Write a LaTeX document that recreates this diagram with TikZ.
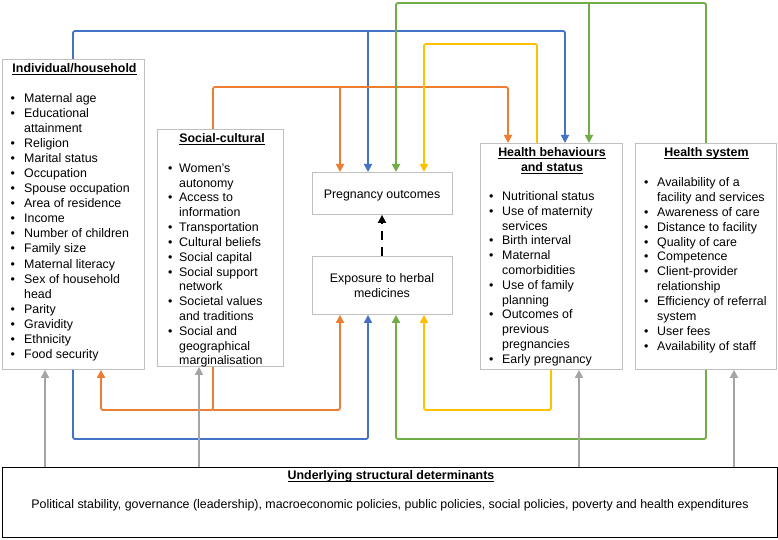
\documentclass[tikz,border=0pt]{standalone}
\usepackage{fontspec}
\setmainfont{Liberation Sans}
\usetikzlibrary{arrows.meta}
\definecolor{cblue}{HTML}{4472C4}
\definecolor{corange}{HTML}{ED7D31}
\definecolor{cgreen}{HTML}{70AD47}
\definecolor{cyellow}{HTML}{FFC000}
\definecolor{cgray}{HTML}{A5A5A5}
\definecolor{boxgray}{HTML}{BFBFBF}
\newlength\bw
\newcommand{\bul}{\makebox[\bw][l]{\textbullet}}
\newcommand{\cont}{\hspace*{\bw}}
\newsavebox\ulnbox
\newcommand{\uln}[1]{\sbox\ulnbox{#1}\rlap{\rule[-1.9pt]{\wd\ulnbox}{0.8pt}}\usebox\ulnbox}
\begin{document}
\begin{tikzpicture}[x=1pt,y=-1pt,
  box/.style={draw=boxgray, line width=0.9pt, fill=white, inner sep=0pt, anchor=north west},
  mainbox/.style={draw=black, line width=1.4pt, inner sep=0pt, anchor=north west},
  ttl/.style={font=\fontsize{12.4}{15}\selectfont\bfseries, inner sep=0pt, anchor=base, align=center},
  txt/.style={font=\fontsize{12.4}{15}\selectfont, inner sep=0pt, anchor=base, align=center},
  lst/.style={font=\fontsize{12.4}{#1}\selectfont, inner sep=0pt, anchor=base west},
  conn/.style={line width=1.8pt, rounded corners=2pt},
  arr/.style={conn, -{Triangle[length=8pt,width=8pt]}},
]
\useasboundingbox (0,0) rectangle (778,540);

% boxes
\node[box, minimum width=142pt, minimum height=310pt] (ind) at (2,59) {};
\node[box, minimum width=126pt, minimum height=237pt] (soc) at (157,129) {};
\node[box, minimum width=140pt, minimum height=42pt] (preg) at (312,172) {};
\node[box, minimum width=140pt, minimum height=58pt] (expo) at (312,256) {};
\node[box, minimum width=142pt, minimum height=226pt] (hb) at (480,143) {};
\node[box, minimum width=141pt, minimum height=226pt] (hs) at (635,143) {};
\node[mainbox, minimum width=775pt, minimum height=70pt] (und) at (2,467) {};

% titles and texts
\node[ttl] (indT) at (74.5,72.5) {\uln{Individual/household}};
\node[ttl] (socT) at (222,142.5) {\uln{Social-cultural}};
\node[ttl] (hbT) at (552,171.5) {\uln{Health behaviours}\\\uln{and status}};
\node[ttl] (hsT) at (706.5,156.5) {\uln{Health system}};
\node[ttl] (undT) at (391,479.5) {\uln{Underlying structural determinants}};
\node[txt] (undB) at (390,508.5) {Political stability, governance (leadership), macroeconomic policies, public policies, social policies, poverty and health expenditures};
\node[txt] (pregT) at (382,198.5) {Pregnancy outcomes};
\node[txt] (expoT) at (382,297.5) {Exposure to herbal\\medicines};

% lists
\node[lst=15.06] (indL) at (10.5,102.4) {\setlength\bw{13.5pt}\begin{tabular}[t]{@{}l@{}}
\bul Maternal age\\
\bul Educational\\
\cont attainment\\
\bul Religion\\
\bul Marital status\\
\bul Occupation\\
\bul Spouse occupation\\
\bul Area of residence\\
\bul Income\\
\bul Number of children\\
\bul Family size\\
\bul Maternal literacy\\
\bul Sex of household\\
\cont head\\
\bul Parity\\
\bul Gravidity\\
\bul Ethnicity\\
\bul Food security
\end{tabular}};

\node[lst=14.8] (socL) at (168,172.4) {\setlength\bw{11pt}\begin{tabular}[t]{@{}l@{}}
\bul Women's\\
\cont autonomy\\
\bul Access to\\
\cont information\\
\bul Transportation\\
\bul Cultural beliefs\\
\bul Social capital\\
\bul Social support\\
\cont network\\
\bul Societal values\\
\cont and traditions\\
\bul Social and\\
\cont geographical\\
\cont marginalisation
\end{tabular}};

\node[lst=14.8] (hbL) at (489,200.4) {\setlength\bw{13pt}\begin{tabular}[t]{@{}l@{}}
\bul Nutritional status\\
\bul Use of maternity\\
\cont services\\
\bul Birth interval\\
\bul Maternal\\
\cont comorbidities\\
\bul Use of family\\
\cont planning\\
\bul Outcomes of\\
\cont previous\\
\cont pregnancies\\
\bul Early pregnancy
\end{tabular}};

\node[lst=14.9] (hsL) at (644,186.4) {\setlength\bw{13pt}\begin{tabular}[t]{@{}l@{}}
\bul Availability of a\\
\cont facility and services\\
\bul Awareness of care\\
\bul Distance to facility\\
\bul Quality of care\\
\bul Competence\\
\bul Client-provider\\
\cont relationship\\
\bul Efficiency of referral\\
\cont system\\
\bul User fees\\
\bul Availability of staff
\end{tabular}};

% column and level coordinates
\coordinate (xB1) at (73,0);
\coordinate (xB2) at (368,0);
\coordinate (xB3) at (565,0);
\coordinate (xO1) at (213,0);
\coordinate (xO2) at (340,0);
\coordinate (xO3) at (508,0);
\coordinate (xO4) at (101,0);
\coordinate (xG1) at (706,0);
\coordinate (xG2) at (396,0);
\coordinate (xG3) at (589,0);
\coordinate (xY1) at (537,0);
\coordinate (xY2) at (424,0);
\coordinate (xY3) at (551,0);
\coordinate (xA1) at (45,0);
\coordinate (xA2) at (199,0);
\coordinate (xA3) at (579,0);
\coordinate (xA4) at (734,0);
\coordinate (xD) at (382,0);
\coordinate (lB) at (0,31);
\coordinate (lO) at (0,87);
\coordinate (lG) at (0,3);
\coordinate (lY) at (0,44);
\coordinate (bB) at (0,439);
\coordinate (bO) at (0,410);
\coordinate (bG) at (0,439);
\coordinate (bY) at (0,410);

% top connectors
\draw[arr, cblue] (ind.north -| xB1) -- (xB1 |- lB) -- (xB3 |- lB) -- (hb.north -| xB3);
\draw[arr, cblue] (xB2 |- lB) -- (preg.north -| xB2);
\draw[arr, corange] (soc.north -| xO1) -- (xO1 |- lO) -- (xO3 |- lO) -- (hb.north -| xO3);
\draw[arr, corange] (xO2 |- lO) -- (preg.north -| xO2);
\draw[arr, cyellow] (hb.north -| xY1) -- (xY1 |- lY) -- (xY2 |- lY) -- (preg.north -| xY2);
\draw[arr, cgreen] (hs.north -| xG1) -- (xG1 |- lG) -- (xG2 |- lG) -- (preg.north -| xG2);
\draw[arr, cgreen] (xG3 |- lG) -- (hb.north -| xG3);

% bottom connectors
\draw[arr, cblue] (ind.south -| xB1) -- (xB1 |- bB) -- (xB2 |- bB) -- (expo.south -| xB2);
\draw[arr, corange] (soc.south -| xO1) -- (xO1 |- bO) -- (xO4 |- bO) -- (ind.south -| xO4);
\draw[arr, corange] (xO1 |- bO) -- (xO2 |- bO) -- (expo.south -| xO2);
\draw[arr, cyellow] (hb.south -| xY3) -- (xY3 |- bY) -- (xY2 |- bY) -- (expo.south -| xY2);
\draw[arr, cgreen] (hs.south -| xG1) -- (xG1 |- bG) -- (xG2 |- bG) -- (expo.south -| xG2);

% grey arrows from underlying determinants
\draw[arr, cgray] (und.north -| xA1) -- (ind.south -| xA1);
\draw[arr, cgray] (und.north -| xA2) -- (soc.south -| xA2);
\draw[arr, cgray] (und.north -| xA3) -- (hb.south -| xA3);
\draw[arr, cgray] (und.north -| xA4) -- (hs.south -| xA4);

% dashed arrow
\draw[line width=1.8pt, dash pattern=on 9pt off 7pt, -{Triangle[length=8pt,width=8pt]}] (expo.north -| xD) -- (preg.south -| xD);
\end{tikzpicture}
\end{document}
